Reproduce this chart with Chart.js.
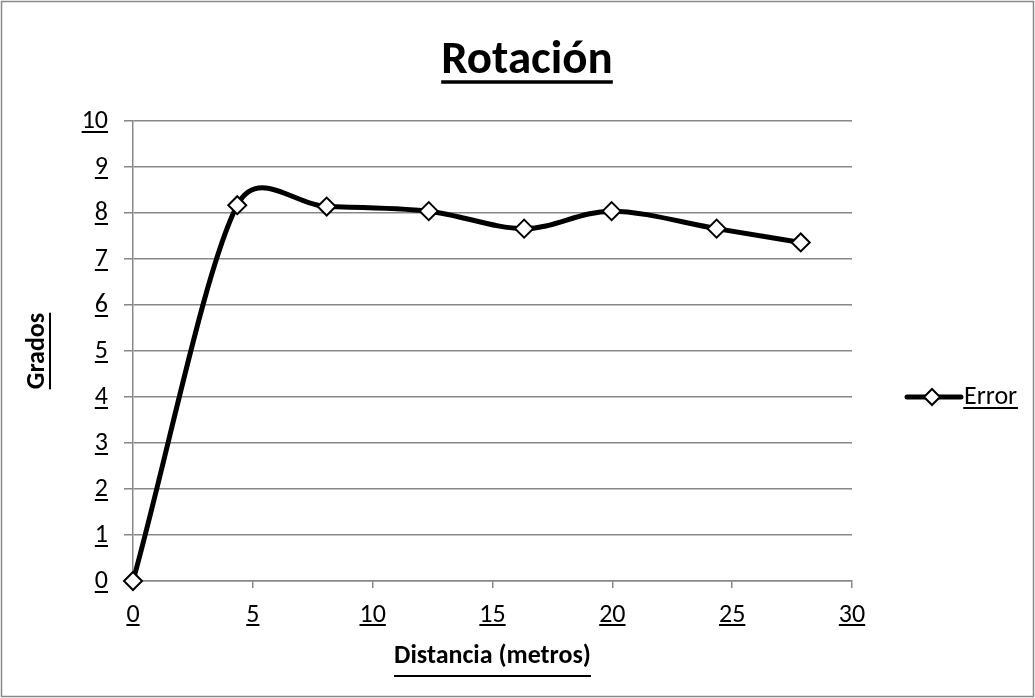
<!DOCTYPE html>
<html>
<head>
<meta charset="utf-8">
<script src="https://cdn.jsdelivr.net/npm/chart.js@4.4.1/dist/chart.umd.min.js"></script>
<style>
  html, body { margin: 0; padding: 0; background: #fff; }
  #wrap { width: 1035px; height: 698px; position: relative; }
</style>
</head>
<body>
<div id="wrap"><canvas id="c" width="1035" height="698"></canvas></div>
<script>
const chartTitle = 'Rotación';
const xAxisTitle = 'Distancia (metros)';
const yAxisTitle = 'Grados';
const seriesName = 'Error';
const distances = [0, 4.35, 8.08, 12.34, 16.32, 19.97, 24.35, 27.86];
const errorValues = [0, 8.17, 8.14, 8.04, 7.66, 8.04, 7.66, 7.36];
const xTickValues = [0, 5, 10, 15, 20, 25, 30];
const yTickValues = [0, 1, 2, 3, 4, 5, 6, 7, 8, 9, 10];

const FONT = "Carlito, Calibri, Lato, 'Liberation Sans', sans-serif";
const GRID = '#878787';
const TICK_SIZE = 26;

const points = distances.map((x, i) => ({ x: x, y: errorValues[i] }));

function uline(ctx, x1, x2, y, w) {
  ctx.save();
  ctx.strokeStyle = '#000';
  ctx.lineWidth = w || 2;
  ctx.beginPath();
  ctx.moveTo(x1, y); ctx.lineTo(x2, y);
  ctx.stroke();
  ctx.restore();
}

// Excel-like smoothing: control points from neighbouring scale pixels
const excelSmooth = {
  id: 'excelSmooth',
  beforeDatasetDraw(chart, args) {
    const meta = args.meta;
    const line = meta.dataset;
    if (!line) return;
    line.updateControlPoints(chart.chartArea, 'x');
    const P = meta.data;
    const n = P.length;
    const K = 0.5;
    for (let i = 0; i < n; i++) {
      const p = P[i], prev = P[i - 1], next = P[i + 1];
      let tx, ty;
      if (prev && next) { tx = next.x - prev.x; ty = next.y - prev.y; }
      else if (next) { tx = next.x - p.x; ty = next.y - p.y; }
      else { tx = p.x - prev.x; ty = p.y - prev.y; }
      const tl = Math.hypot(tx, ty) || 1;
      const ux = tx / tl, uy = ty / tl;
      const base = (prev && next) ? tl / 6 : tl / 3;
      if (prev) {
        const L = Math.min(base, K * Math.hypot(p.x - prev.x, p.y - prev.y));
        p.cp1x = p.x - ux * L; p.cp1y = p.y - uy * L;
      } else { p.cp1x = p.x; p.cp1y = p.y; }
      if (next) {
        const L = Math.min(base, K * Math.hypot(next.x - p.x, next.y - p.y));
        p.cp2x = p.x + ux * L; p.cp2y = p.y + uy * L;
      } else { p.cp2x = p.x; p.cp2y = p.y; }
    }
    line._path = undefined;
  }
};

const decor = {
  id: 'decor',
  beforeDraw(chart) {
    const ctx = chart.ctx;
    ctx.save();
    ctx.fillStyle = '#fff';
    ctx.fillRect(0, 0, chart.width, chart.height);
    ctx.restore();
  },
  afterDraw(chart) {
    const ctx = chart.ctx;
    ctx.save();
    // outer border
    ctx.strokeStyle = '#888';
    ctx.lineWidth = 1.5;
    ctx.strokeRect(1.5, 1.5, chart.width - 3, chart.height - 3);

    const xs = chart.scales.x, ys = chart.scales.y;

    // tick label underlines
    ctx.font = TICK_SIZE + 'px ' + FONT;
    ys.ticks.forEach(t => {
      const w = ctx.measureText(String(t.value)).width;
      const xr = ys.right - 9 - 16;
      const yp = ys.getPixelForValue(t.value) + 11;
      uline(ctx, xr - w, xr, yp, 2);
    });
    xs.ticks.forEach(t => {
      const w = ctx.measureText(String(t.value)).width;
      const xc = xs.getPixelForValue(t.value);
      uline(ctx, xc - w / 2, xc + w / 2, 625, 2);
    });

    // chart title
    ctx.font = 'bold 47px ' + FONT;
    ctx.fillStyle = '#000';
    ctx.textAlign = 'center';
    ctx.textBaseline = 'alphabetic';
    ctx.fillText(chartTitle, 527, 73);
    let w = ctx.measureText(chartTitle).width;
    uline(ctx, 527 - w / 2, 527 + w / 2, 82, 3.5);

    // axis title underlines
    ctx.font = 'bold 26px ' + FONT;
    w = ctx.measureText(xAxisTitle).width;
    const xc = (xs.left + xs.right) / 2;
    uline(ctx, xc - w / 2, xc + w / 2, 676, 2);
    w = ctx.measureText(yAxisTitle).width;
    const yc = (ys.top + ys.bottom) / 2;
    ctx.save();
    ctx.strokeStyle = '#000';
    ctx.lineWidth = 2;
    ctx.beginPath();
    ctx.moveTo(50, yc - w / 2); ctx.lineTo(50, yc + w / 2);
    ctx.stroke();
    ctx.restore();

    // legend
    const ly = 397;
    ctx.strokeStyle = '#000';
    ctx.lineWidth = 5;
    ctx.lineCap = 'round';
    ctx.beginPath();
    ctx.moveTo(907, ly); ctx.lineTo(961, ly);
    ctx.stroke();
    ctx.lineWidth = 2;
    ctx.fillStyle = '#fff';
    ctx.beginPath();
    ctx.moveTo(932, ly - 8); ctx.lineTo(940, ly); ctx.lineTo(932, ly + 8); ctx.lineTo(924, ly); ctx.closePath();
    ctx.fill(); ctx.stroke();
    ctx.fillStyle = '#000';
    ctx.font = TICK_SIZE + 'px ' + FONT;
    ctx.textBaseline = 'middle';
    ctx.textAlign = 'left';
    ctx.fillText(seriesName, 964, ly);
    w = ctx.measureText(seriesName).width;
    uline(ctx, 964, 964 + w, ly + 11, 2);
    ctx.restore();
  }
};

new Chart(document.getElementById('c'), {
  type: 'line',
  data: {
    datasets: [{
      label: seriesName,
      data: points,
      borderColor: '#000',
      borderWidth: 5,
      tension: 0.4,
      fill: false,
      clip: false,
      pointStyle: 'rectRot',
      pointRadius: 9,
      pointHoverRadius: 9,
      pointBackgroundColor: '#fff',
      pointBorderColor: '#000',
      pointBorderWidth: 2
    }]
  },
  options: {
    responsive: false,
    animation: false,
    events: [],
    layout: { padding: { left: 0, right: 183, top: 121, bottom: 0 } },
    plugins: {
      legend: { display: false },
      tooltip: { enabled: false },
      title: { display: false }
    },
    scales: {
      x: {
        type: 'linear',
        min: 0, max: 30,
        afterBuildTicks: s => { s.ticks = xTickValues.map(v => ({ value: v })); },
        afterFit: s => { s.height = 117; },
        ticks: { color: '#000', font: { family: FONT, size: TICK_SIZE }, padding: 12, maxRotation: 0 },
        grid: { drawOnChartArea: false, color: GRID, lineWidth: 1.5, tickLength: 7 },
        border: { color: GRID, width: 1.5 },
        title: {
          display: true, text: xAxisTitle, color: '#000',
          font: { family: FONT, size: 26, weight: 'bold', lineHeight: 1.2 },
          padding: { top: 0, bottom: 26 }
        }
      },
      y: {
        type: 'linear',
        min: 0, max: 10,
        afterBuildTicks: s => { s.ticks = yTickValues.map(v => ({ value: v })); },
        afterFit: s => { s.width = 133; },
        ticks: { color: '#000', font: { family: FONT, size: TICK_SIZE }, padding: 16 },
        grid: { color: GRID, lineWidth: 1.5, tickLength: 9 },
        border: { color: GRID, width: 1.5 },
        title: {
          display: true, text: yAxisTitle, color: '#000',
          font: { family: FONT, size: 26, weight: 'bold', lineHeight: 1.2 },
          padding: { top: 22, bottom: 0 }
        }
      }
    }
  },
  plugins: [excelSmooth, decor]
});
</script>
</body>
</html>
